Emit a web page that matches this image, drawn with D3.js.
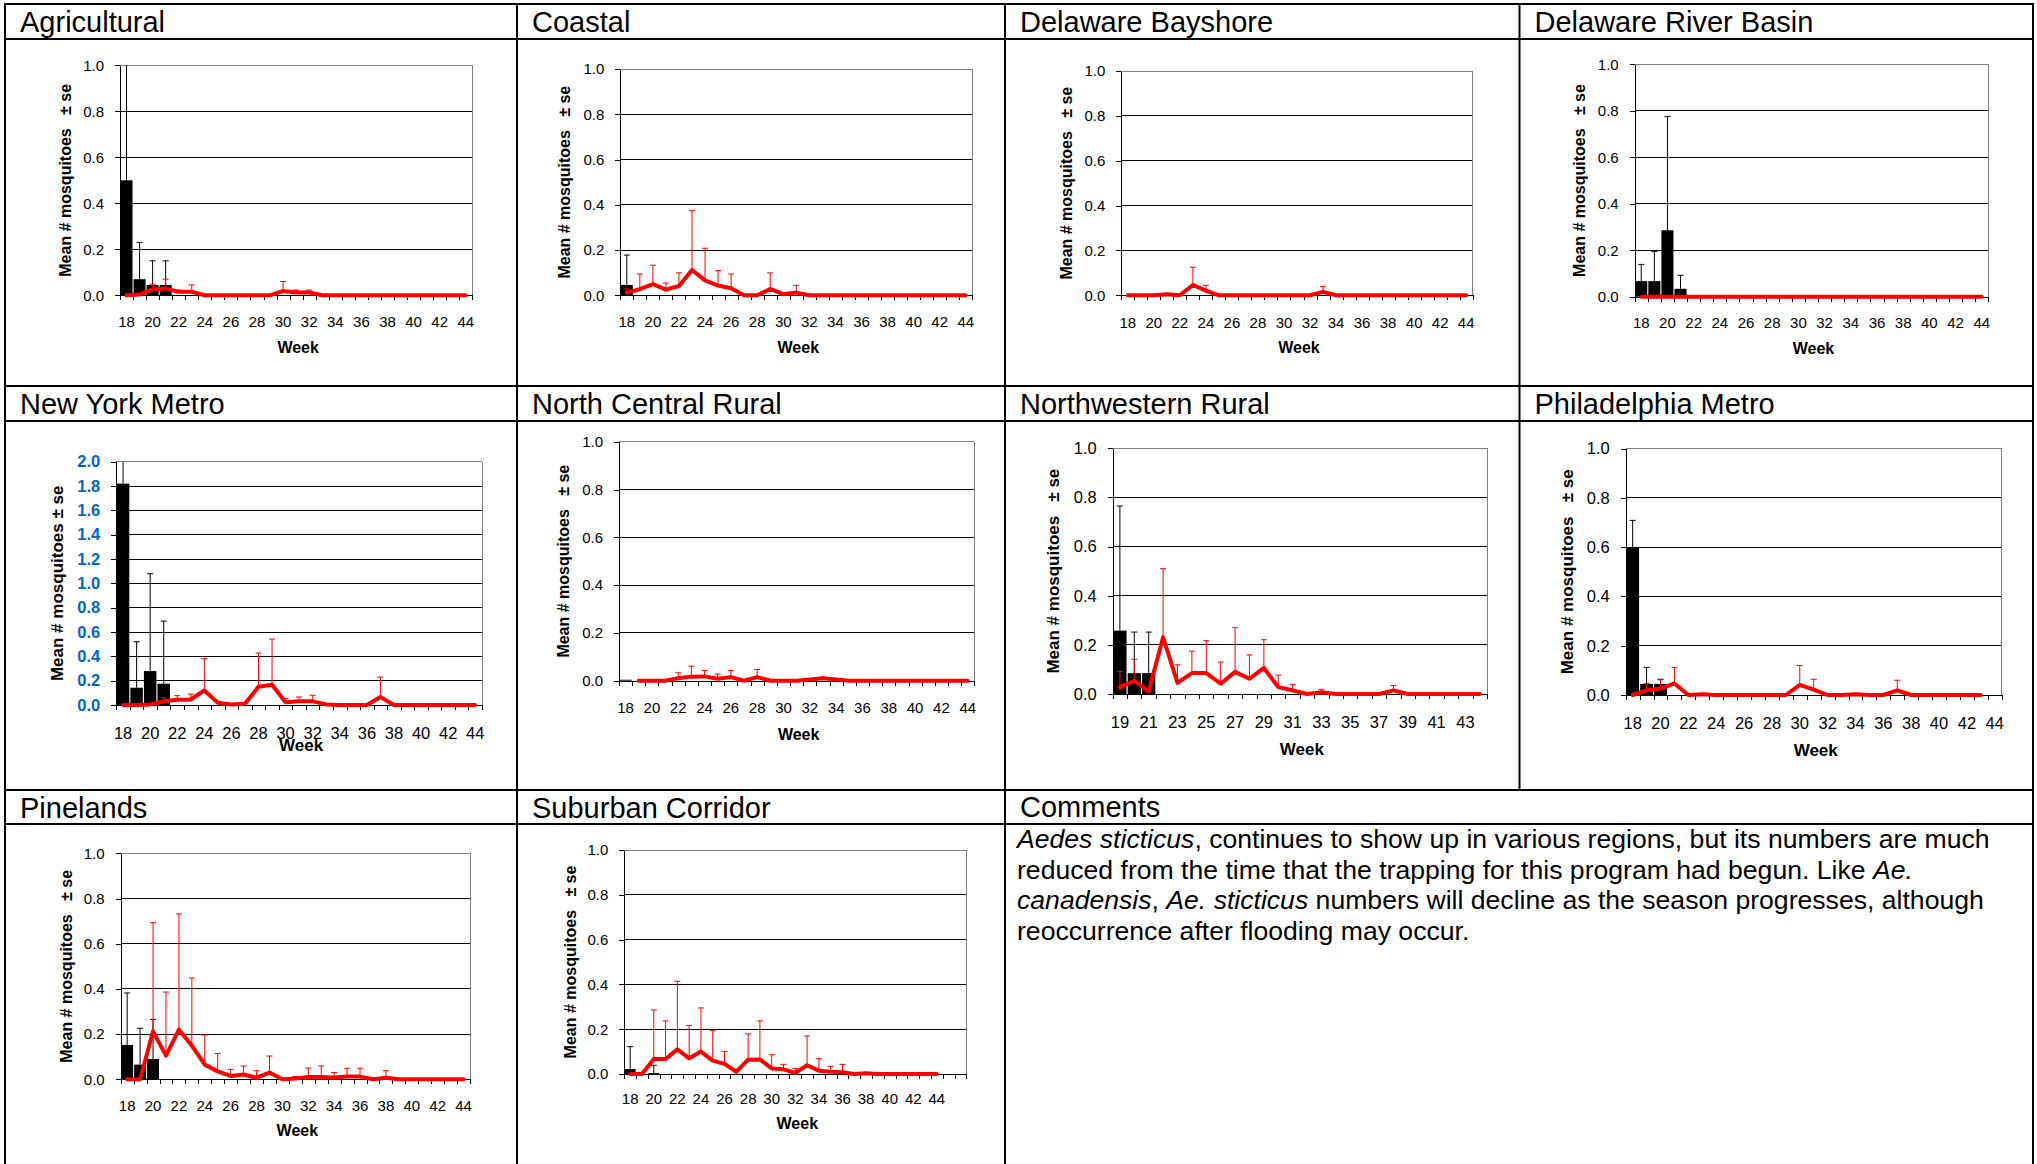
<!DOCTYPE html>
<html>
<head>
<meta charset="utf-8">
<script src="https://cdn.jsdelivr.net/npm/d3@7"></script>
<style>
  body { margin: 0; background: #fff; }
  svg { display: block; font-family: Arial, "Liberation Sans", Helvetica, sans-serif; }
</style>
</head>
<body>
<div id="chart"></div>
<script>
// week categories and the labels shown under them
const weeks18to44 = [18, 19, 20, 21, 22, 23, 24, 25, 26, 27, 28, 29, 30, 31, 32, 33, 34, 35, 36, 37, 38, 39, 40, 41, 42, 43, 44];
const weeks19to44 = [19, 20, 21, 22, 23, 24, 25, 26, 27, 28, 29, 30, 31, 32, 33, 34, 35, 36, 37, 38, 39, 40, 41, 42, 43, 44];
const weeks18to46 = [18, 19, 20, 21, 22, 23, 24, 25, 26, 27, 28, 29, 30, 31, 32, 33, 34, 35, 36, 37, 38, 39, 40, 41, 42, 43, 44, 45, 46];
const evenLabels = [18, 20, 22, 24, 26, 28, 30, 32, 34, 36, 38, 40, 42, 44];
const oddLabels = [19, 21, 23, 25, 27, 29, 31, 33, 35, 37, 39, 41, 43];

// Agricultural
const agBarMean = [0.50, 0.07, 0.045, 0.045];
const agBarSe = [0.62, 0.16, 0.105, 0.105];
const agLineMean = [0, 0.004, 0.026, 0.03, 0.015, 0.015, 0, 0, 0, 0, 0, 0, 0.019, 0.012, 0.012, 0, 0, 0, 0, 0, 0, 0, 0, 0, 0, 0, 0];
const agLineSe = [0, 0, 0.022, 0.04, 0.008, 0.03, 0, 0, 0, 0, 0, 0, 0.041, 0.011, 0.011, 0, 0, 0, 0, 0, 0, 0, 0, 0, 0, 0, 0];

// Coastal
const coBarMean = [0.046];
const coBarSe = [0.132];
const coLineMean = [0.012, 0.027, 0.049, 0.025, 0.041, 0.112, 0.066, 0.043, 0.031, 0, 0, 0.028, 0.005, 0.012, 0, 0, 0, 0, 0, 0, 0, 0, 0, 0, 0, 0, 0];
const coLineSe = [0.016, 0.067, 0.084, 0.029, 0.058, 0.262, 0.142, 0.066, 0.063, 0, 0, 0.071, 0, 0.032, 0, 0, 0, 0, 0, 0, 0, 0, 0, 0, 0, 0, 0];

// Delaware Bayshore
const dbBarMean = [];
const dbBarSe = [];
const dbLineMean = [0, 0, 0, 0.005, 0, 0.046, 0.021, 0, 0, 0, 0, 0, 0, 0, 0, 0.015, 0, 0, 0, 0, 0, 0, 0, 0, 0, 0, 0];
const dbLineSe = [0, 0, 0, 0, 0, 0.079, 0.024, 0, 0, 0, 0, 0, 0, 0, 0, 0.025, 0, 0, 0, 0, 0, 0, 0, 0, 0, 0, 0];

// Delaware River Basin
const drBarMean = [0.067, 0.067, 0.286, 0.034];
const drBarSe = [0.072, 0.127, 0.489, 0.058];
const drLineMean = [0, 0, 0, 0, 0, 0, 0, 0, 0, 0, 0, 0, 0, 0, 0, 0, 0, 0, 0, 0, 0, 0, 0, 0, 0, 0, 0];
const drLineSe = [0, 0, 0, 0, 0, 0, 0, 0, 0, 0, 0, 0, 0, 0, 0, 0, 0, 0, 0, 0, 0, 0, 0, 0, 0, 0, 0];

// New York Metro
const nyBarMean = [1.82, 0.142, 0.279, 0.175];
const nyBarSe = [0.5, 0.378, 0.80, 0.515];
const nyLineMean = [0, 0, 0.005, 0.03, 0.044, 0.045, 0.12, 0.019, 0.005, 0.01, 0.15, 0.167, 0.022, 0.03, 0.03, 0.005, 0, 0, 0, 0.066, 0, 0, 0, 0, 0, 0, 0];
const nyLineSe = [0, 0, 0, 0.03, 0.033, 0.045, 0.261, 0, 0, 0, 0.277, 0.375, 0.033, 0.036, 0.05, 0, 0, 0, 0, 0.164, 0, 0, 0, 0, 0, 0, 0];

// North Central Rural
const ncBarMean = [0.004];
const ncBarSe = [0];
const ncLineMean = [null, 0, 0, 0, 0.01, 0.017, 0.018, 0.008, 0.015, 0, 0.015, 0, 0, 0, 0.005, 0.01, 0.005, 0, 0, 0, 0, 0, 0, 0, 0, 0, 0];
const ncLineSe = [0, 0, 0, 0, 0.023, 0.044, 0.025, 0.02, 0.028, 0, 0.032, 0, 0, 0, 0, 0.005, 0, 0, 0, 0, 0, 0, 0, 0, 0, 0, 0];

// Northwestern Rural
const nwBarMean = [0.258, 0.085, 0.085];
const nwBarSe = [0.507, 0.167, 0.167];
const nwLineMean = [0.028, 0.054, 0.011, 0.231, 0.045, 0.085, 0.085, 0.042, 0.09, 0.062, 0.106, 0.028, 0.015, 0, 0.007, 0, 0, 0, 0, 0.015, 0, 0, 0, 0, 0, 0];
const nwLineSe = [0.064, 0.087, 0, 0.279, 0.074, 0.089, 0.132, 0.088, 0.18, 0.097, 0.115, 0.049, 0.024, 0, 0.012, 0, 0, 0, 0, 0.019, 0, 0, 0, 0, 0, 0];

// Philadelphia Metro
const phBarMean = [0.598, 0.045, 0.045];
const phBarSe = [0.111, 0.067, 0.019];
const phLineMean = [0, 0.019, 0.026, 0.047, 0, 0.003, 0, 0, 0, 0, 0, 0, 0.041, 0.022, 0, 0, 0.003, 0, 0, 0.019, 0, 0, 0, 0, 0, 0, null];
const phLineSe = [0, 0.028, 0.036, 0.065, 0, 0, 0, 0, 0, 0, 0, 0, 0.079, 0.042, 0, 0, 0, 0, 0, 0.041, 0, 0, 0, 0, 0, 0, 0];

// Pinelands
const piBarMean = [0.152, 0.065, 0.09];
const piBarSe = [0.23, 0.161, 0.175];
const piLineMean = [0, 0, 0.212, 0.105, 0.22, 0.149, 0.065, 0.035, 0.015, 0.021, 0.007, 0.03, 0, 0.003, 0.01, 0.01, 0.008, 0.012, 0.012, 0, 0.007, 0, 0, 0, 0, 0, 0];
const piLineSe = [0, 0, 0.481, 0.281, 0.512, 0.299, 0.131, 0.079, 0.029, 0.038, 0.031, 0.073, 0, 0.009, 0.04, 0.049, 0.022, 0.037, 0.037, 0, 0.031, 0, 0, 0, 0, 0, 0];

// Suburban Corridor
const suBarMean = [0.022, 0, 0.004];
const suBarSe = [0.10, 0, 0.035];
const suLineMean = [0, 0, 0.067, 0.067, 0.11, 0.07, 0.1, 0.06, 0.045, 0.01, 0.064, 0.065, 0.025, 0.021, 0.005, 0.039, 0.015, 0.01, 0.008, 0, 0.003, 0, 0, 0, 0, 0, 0, null, null];
const suLineSe = [0, 0, 0.219, 0.17, 0.304, 0.147, 0.195, 0.135, 0.056, 0, 0.115, 0.172, 0.061, 0.022, 0.019, 0.131, 0.053, 0.024, 0.035, 0, 0, 0, 0, 0, 0, 0, 0, 0, 0];

// comments cell, one entry per line, [text, italic]
const commentLines = [
  [['Aedes sticticus', true], [', continues to show up in various regions, but its numbers are much', false]],
  [['reduced from the time that the trapping for this program had begun. Like ', false], ['Ae.', true]],
  [['canadensis', true], [', ', false], ['Ae. sticticus', true], [' numbers will decline as the season progresses, although', false]],
  [['reoccurrence after flooding may occur.', false]]
];

const regions = [
  { name: 'Agricultural', weeks: weeks18to44, labels: evenLabels, yMax: 1, barMean: agBarMean, barSe: agBarSe, lineMean: agLineMean, lineSe: agLineSe },
  { name: 'Coastal', weeks: weeks18to44, labels: evenLabels, yMax: 1, barMean: coBarMean, barSe: coBarSe, lineMean: coLineMean, lineSe: coLineSe },
  { name: 'Delaware Bayshore', weeks: weeks18to44, labels: evenLabels, yMax: 1, barMean: dbBarMean, barSe: dbBarSe, lineMean: dbLineMean, lineSe: dbLineSe },
  { name: 'Delaware River Basin', weeks: weeks18to44, labels: evenLabels, yMax: 1, barMean: drBarMean, barSe: drBarSe, lineMean: drLineMean, lineSe: drLineSe },
  { name: 'New York Metro', weeks: weeks18to44, labels: evenLabels, yMax: 2, barMean: nyBarMean, barSe: nyBarSe, lineMean: nyLineMean, lineSe: nyLineSe },
  { name: 'North Central Rural', weeks: weeks18to44, labels: evenLabels, yMax: 1, barMean: ncBarMean, barSe: ncBarSe, lineMean: ncLineMean, lineSe: ncLineSe },
  { name: 'Northwestern Rural', weeks: weeks19to44, labels: oddLabels, yMax: 1, barMean: nwBarMean, barSe: nwBarSe, lineMean: nwLineMean, lineSe: nwLineSe },
  { name: 'Philadelphia Metro', weeks: weeks18to44, labels: evenLabels, yMax: 1, barMean: phBarMean, barSe: phBarSe, lineMean: phLineMean, lineSe: phLineSe },
  { name: 'Pinelands', weeks: weeks18to44, labels: evenLabels, yMax: 1, barMean: piBarMean, barSe: piBarSe, lineMean: piLineMean, lineSe: piLineSe },
  { name: 'Suburban Corridor', weeks: weeks18to46, labels: evenLabels, yMax: 1, barMean: suBarMean, barSe: suBarSe, lineMean: suLineMean, lineSe: suLineSe }
];

// plot boxes and text offsets of each small chart
const layout = [
  { L: 120, R: 472.3, T: 65.3, B: 295.3, tickY: 32, weekY: 58, titleOff: 49, fs: 15, tfs: 16 },
  { L: 620.3, R: 972.3, T: 69, B: 295.3, tickY: 32, weekY: 58, titleOff: 50, fs: 15, tfs: 16 },
  { L: 1121.3, R: 1472.7, T: 71, B: 295.3, tickY: 33, weekY: 58, titleOff: 49, fs: 15, tfs: 16 },
  { L: 1634.7, R: 1988.3, T: 64.3, B: 296.7, tickY: 31.5, weekY: 57.5, titleOff: 50, fs: 15, tfs: 16 },
  { L: 116.3, R: 482, T: 461.7, B: 705, tickY: 34, weekY: 46, titleOff: 53, fs: 16.5, tfs: 17, blue: true },
  { L: 619, R: 974.3, T: 441.7, B: 680.7, tickY: 32.5, weekY: 59, titleOff: 50, fs: 15, tfs: 16 },
  { L: 1112.7, R: 1487, T: 448.3, B: 694, tickY: 34, weekY: 61, titleOff: 54, fs: 16.5, tfs: 17 },
  { L: 1625.7, R: 2001.7, T: 448.7, B: 695, tickY: 34, weekY: 61, titleOff: 53, fs: 16.5, tfs: 17 },
  { L: 120.7, R: 470, T: 853.3, B: 1079.3, tickY: 31.5, weekY: 57, titleOff: 49, fs: 15, tfs: 16 },
  { L: 624.3, R: 966.3, T: 850, B: 1074, tickY: 30, weekY: 55, titleOff: 48, fs: 15, tfs: 16 }
];

const colX = [5, 517, 1005, 1519.5];
const rowY = [4, 386, 790];
const headY = [39, 421, 824];

const width = 2037;
const height = 1164;

const svg = d3.select('#chart').append('svg')
  .attr('width', width)
  .attr('height', height);

// table frame
const frame = svg.append('g').attr('stroke', '#000').attr('stroke-width', 2);
[...rowY, ...headY].forEach((y) => {
  frame.append('line').attr('x1', 4).attr('x2', 2034).attr('y1', y).attr('y2', y);
});
[5, 517, 1005, 2033].forEach((x) => {
  frame.append('line').attr('x1', x).attr('x2', x).attr('y1', 3).attr('y2', height);
});
frame.append('line').attr('x1', 1519.5).attr('x2', 1519.5).attr('y1', 3).attr('y2', rowY[2]);

// cell headers
regions.forEach((r, i) => {
  svg.append('text')
    .attr('x', colX[i % 4] + 15)
    .attr('y', rowY[Math.floor(i / 4)] + 28)
    .attr('font-size', 29)
    .text(r.name);
});
svg.append('text').attr('x', colX[2] + 15).attr('y', 817).attr('font-size', 29).text('Comments');

// comments body
const body = svg.append('g').attr('font-size', 26.6);
commentLines.forEach((line, i) => {
  const t = body.append('text').attr('x', 1017).attr('y', 848 + i * 30.5).style('white-space', 'pre');
  line.forEach(([s, it]) => {
    t.append('tspan').attr('font-style', it ? 'italic' : 'normal').text(s);
  });
});

function drawPanel(r, lay, idx) {
  const g = svg.append('g');
  const n = r.weeks.length;

  const x = d3.scaleBand().domain(r.weeks).range([lay.L, lay.R]).paddingInner(0.08).paddingOuter(0.04);
  const xEdge = d3.scaleLinear().domain([0, n]).range([lay.L, lay.R]);
  const y = d3.scaleLinear().domain([0, r.yMax]).range([lay.B, lay.T]);
  const yTicks = y.ticks(r.yMax / 0.2);
  const cx = (w) => x(w) + x.bandwidth() / 2;

  // gridlines + plot border
  g.append('g').attr('shape-rendering', 'crispEdges')
    .selectAll('line')
    .data(yTicks.filter((t) => t > 0))
    .join('line')
    .attr('x1', lay.L).attr('x2', lay.R)
    .attr('y1', (d) => y(d)).attr('y2', (d) => y(d))
    .attr('stroke', (d) => (Math.abs(d - r.yMax) < 1e-9 ? '#808080' : '#000'));
  g.append('line').attr('shape-rendering', 'crispEdges')
    .attr('x1', lay.R).attr('x2', lay.R).attr('y1', lay.T).attr('y2', lay.B)
    .attr('stroke', '#808080');

  // y axis
  const yAxisG = g.append('g')
    .attr('transform', `translate(${lay.L},0)`)
    .call(d3.axisLeft(y).tickValues(yTicks).tickSize(5).tickSizeOuter(0).tickPadding(11).tickFormat(d3.format('.1f')));
  yAxisG.attr('font-family', null).attr('font-size', lay.fs);
  yAxisG.selectAll('path, line').attr('stroke', '#000').attr('shape-rendering', 'crispEdges');
  yAxisG.selectAll('text')
    .attr('fill', lay.blue ? '#0066CC' : '#000')
    .attr('font-weight', lay.blue ? 'bold' : 'normal');

  // x axis: ticks between categories
  const xAxisG = g.append('g')
    .attr('transform', `translate(0,${lay.B})`)
    .call(d3.axisBottom(xEdge).tickValues(d3.range(n + 1)).tickSize(5).tickSizeOuter(0).tickFormat(''));
  xAxisG.selectAll('path, line').attr('stroke', '#000').attr('shape-rendering', 'crispEdges');

  // x labels under every other week
  const xLab = g.append('g')
    .attr('transform', `translate(0,${lay.B})`)
    .call(d3.axisBottom(x).tickValues(r.labels).tickSize(0));
  xLab.select('.domain').remove();
  xLab.attr('font-family', null).attr('font-size', lay.fs);
  xLab.selectAll('text').attr('y', lay.tickY).attr('dy', null).attr('fill', '#000');

  // axis titles
  g.append('text')
    .attr('x', (lay.L + lay.R) / 2 + 2)
    .attr('y', lay.B + lay.weekY)
    .attr('text-anchor', 'middle')
    .attr('font-weight', 'bold')
    .attr('font-size', lay.tfs)
    .text('Week');
  g.append('text')
    .attr('transform', `translate(${lay.L - lay.titleOff},${(lay.T + lay.B) / 2}) rotate(-90)`)
    .attr('text-anchor', 'middle')
    .attr('font-weight', 'bold')
    .attr('font-size', lay.tfs)
    .style('white-space', 'pre')
    .text(lay.blue ? 'Mean # mosquitoes ± se' : 'Mean # mosquitoes   ± se');

  const clipId = `clip${idx}`;
  g.append('clipPath').attr('id', clipId)
    .append('rect')
    .attr('x', lay.L - 10).attr('y', lay.T)
    .attr('width', lay.R - lay.L + 20).attr('height', lay.B - lay.T + 10);

  // black bars
  const bars = r.barMean.map((v, i) => ({ w: r.weeks[i], v, se: r.barSe[i] }));
  g.append('g')
    .selectAll('rect')
    .data(bars.filter((d) => d.v > 0))
    .join('rect')
    .attr('x', (d) => x(d.w))
    .attr('width', x.bandwidth())
    .attr('y', (d) => y(d.v))
    .attr('height', (d) => y(0) - y(d.v))
    .attr('fill', '#000');

  const errBars = (data, color) => {
    const eg = g.append('g').attr('clip-path', `url(#${clipId})`)
      .attr('stroke', color).attr('stroke-width', 1).attr('fill', 'none');
    const sel = eg.selectAll('g').data(data.filter((d) => d.v != null && d.se > 0)).join('g');
    sel.append('line')
      .attr('x1', (d) => cx(d.w)).attr('x2', (d) => cx(d.w))
      .attr('y1', (d) => y(d.v)).attr('y2', (d) => y(d.v + d.se));
    sel.append('line')
      .attr('x1', (d) => cx(d.w) - 3).attr('x2', (d) => cx(d.w) + 3)
      .attr('y1', (d) => y(d.v + d.se)).attr('y2', (d) => y(d.v + d.se));
  };
  errBars(bars, '#000');

  // red line with its error bars
  const pts = r.lineMean.map((v, i) => ({ w: r.weeks[i], v, se: r.lineSe[i] }));
  errBars(pts, '#FF0000');

  const line = d3.line()
    .defined((d) => d.v != null)
    .x((d) => cx(d.w))
    .y((d) => y(d.v));
  g.append('path')
    .datum(pts)
    .attr('d', line)
    .attr('fill', 'none')
    .attr('stroke', '#FF0000')
    .attr('stroke-width', 4)
    .attr('stroke-linejoin', 'round')
    .attr('stroke-linecap', 'round');
}

regions.forEach((r, i) => drawPanel(r, layout[i], i));
</script>
</body>
</html>
